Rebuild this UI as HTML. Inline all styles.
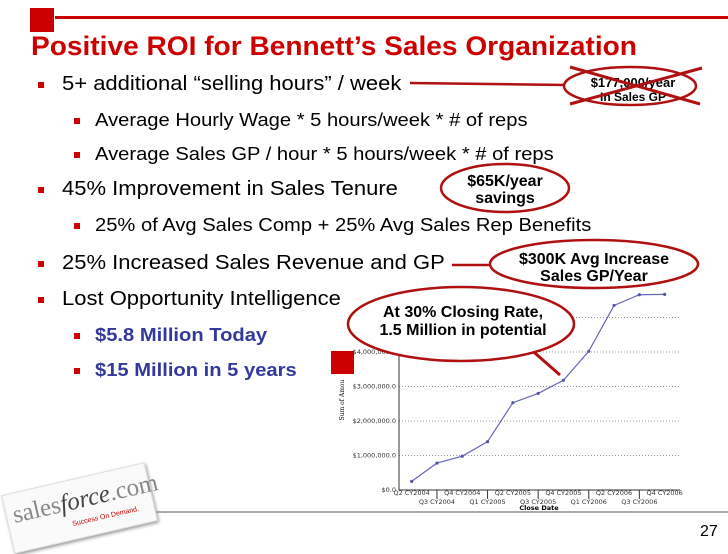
<!DOCTYPE html>
<html><head><meta charset="utf-8"><style>
body{margin:0;width:728px;height:546px;background:#fff;overflow:hidden;position:relative;font-family:"Liberation Sans",sans-serif}
.t{position:absolute;white-space:nowrap;color:#000;transform-origin:0 0}
.b1{font-size:20px;transform:scaleX(1.1)}.b2{font-size:18px;transform:scaleX(1.12)}
.sq{position:absolute;width:6px;height:6px;background:#c00}
</style></head><body>
<div style="position:absolute;left:30px;top:8px;width:24px;height:24px;background:#c00"></div>
<div style="position:absolute;left:55px;top:16px;width:673px;height:3px;background:#c00"></div>
<div class="t" style="left:31px;top:31px;font-size:27px;font-weight:bold;color:#c00;transform:scaleX(1.04)">Positive ROI for Bennett’s Sales Organization</div>

<div class="sq" style="left:38px;top:82px"></div><div class="t b1" style="left:62px;top:73px">5+ additional “selling hours” / week</div>
<div class="sq" style="left:74px;top:118px"></div><div class="t b2" style="left:95px;top:110px">Average Hourly Wage * 5 hours/week * # of reps</div>
<div class="sq" style="left:74px;top:152px"></div><div class="t b2" style="left:95px;top:144px">Average Sales GP / hour * 5 hours/week * # of reps</div>
<div class="sq" style="left:38px;top:187px"></div><div class="t b1" style="left:62px;top:178px">45% Improvement in Sales Tenure</div>
<div class="sq" style="left:74px;top:223px"></div><div class="t b2" style="left:95px;top:215px">25% of Avg Sales Comp + 25% Avg Sales Rep Benefits</div>
<div class="sq" style="left:38px;top:261px"></div><div class="t b1" style="left:62px;top:252px">25% Increased Sales Revenue and GP</div>
<div class="sq" style="left:38px;top:297px"></div><div class="t b1" style="left:62px;top:288px">Lost Opportunity Intelligence</div>
<div class="sq" style="left:74px;top:333px"></div><div class="t b2" style="left:95px;top:325px;color:#33399a;font-weight:bold">$5.8 Million Today</div>
<div class="sq" style="left:74px;top:368px"></div><div class="t b2" style="left:95px;top:360px;color:#33399a;font-weight:bold">$15 Million in 5 years</div>
<div style="position:absolute;left:331px;top:351px;width:23px;height:23px;background:#c00"></div>

<svg width="728" height="546" style="position:absolute;left:0;top:0" id="ch"></svg>

<div style="position:absolute;left:100px;top:511px;width:628px;height:2px;background:#aaa"></div>
<div class="t" style="left:700px;top:523px;font-size:16px">27</div>
<div style="position:absolute;left:6px;top:478px;width:145px;height:58px;transform:rotate(-13deg);background:#fafafa;box-shadow:1px 2px 3px #999;border:1px solid #ddd">
<div class="t" style="left:6px;top:8px;font-size:25px;color:#888;font-family:'Liberation Serif',serif">sales<i style="color:#444">force</i>.com</div>
<div class="t" style="left:62px;top:40px;font-size:7px;color:#c00">Success On Demand.</div></div>

<script>
const categories=["Q2 CY2004","Q3 CY2004","Q4 CY2004","Q1 CY2005","Q2 CY2005","Q3 CY2005","Q4 CY2005","Q1 CY2006","Q2 CY2006","Q3 CY2006","Q4 CY2006"];
const amounts=[250000,780000,980000,1400000,2530000,2800000,3180000,4020000,5350000,5660000,5670000];
const yTicks=[0,1000000,2000000,3000000,4000000,5000000];
const yTickLabels=["$0.0","$1,000,000.0","$2,000,000.0","$3,000,000.0","$4,000,000.0",""];
const svg=document.getElementById('ch');const NS="http://www.w3.org/2000/svg";
const x0=399,bw=25.3,y0=490,pxPerM=34.5;
const X=i=>x0+bw*(i+0.5), Y=v=>y0-v/1e6*pxPerM;
function el(tag,attrs,txt){const e=document.createElementNS(NS,tag);for(const k in attrs)e.setAttribute(k,attrs[k]);if(txt!=null)e.textContent=txt;svg.appendChild(e);return e;}
yTicks.forEach((v,i)=>{if(v>0){const g=el('line',{x1:x0,x2:680,y1:Y(v),y2:Y(v),stroke:'#999','stroke-dasharray':'1,2'});

}
const t=el('text',{x:x0-3,y:Y(v)+2,'font-size':6.5,'text-anchor':'end',fill:'#333','font-family':'DejaVu Sans'},yTickLabels[i]);

});
const ax=el('path',{d:`M${x0} 298V${y0}H680`,stroke:'#333',fill:'none','stroke-width':1});


categories.forEach((c,i)=>{const top=i%2==0;const t=el('text',{x:X(i),y:top?495:504,'font-size':6.5,'text-anchor':'middle',fill:'#333','font-family':'DejaVu Sans'},c);


if(i%2==0&&i>0){const s=el('line',{x1:X(i)-bw,x2:X(i)-bw,y1:y0,y2:y0+9,stroke:'#333'});

}});
const xt=el('text',{x:539,y:510,'font-size':6.5,'font-weight':'bold','text-anchor':'middle','font-family':'DejaVu Sans'},'Close Date');


const yt=el('text',{x:0,y:0,'font-size':6,'text-anchor':'middle','font-family':'DejaVu Serif',transform:'translate(344,400) rotate(-90)'},'Sum of Amou');


const ln=el('polyline',{points:amounts.map((v,i)=>X(i)+','+Y(v)).join(' '),fill:'none',stroke:'#6666bb','stroke-width':1.2});


amounts.forEach((v,i)=>{const p=el('circle',{cx:X(i),cy:Y(v),r:1.6,fill:'#5555aa'});

});
const R='#b01010';
function ell(cx,cy,rx,ry,name){const e=el('ellipse',{cx,cy,rx,ry,fill:'#fff',stroke:R,'stroke-width':2.5});}
function lineR(x1,y1,x2,y2,w){const l=el('line',{x1,y1,x2,y2,stroke:R,'stroke-width':w||2.5});}
function txt(x,y,s,fs){const t=el('text',{x,y,'font-size':fs||15,'font-weight':'bold','text-anchor':'middle','font-family':'Liberation Sans'},s);}
lineR(410,83,566,85);lineR(452,265,492,265);lineR(520,340,560,375,3);
ell(630,86,66,19,'callout-177k');txt(633,87,'$177,000/year',13);txt(633,101,'In Sales GP',12);
lineR(570,67,700,104,3);lineR(570,104,702,68,3);
ell(505,188,64,24,'callout-65k');txt(505,186,'$65K/year',16);txt(505,203,'savings',16);
ell(594,264,104,24,'callout-300k');txt(594,264,'$300K Avg Increase',16);txt(594,281,'Sales GP/Year',16);
ell(461,324,113,37,'callout-closing-rate');txt(463,317,'At 30% Closing Rate,',16);txt(463,335,'1.5 Million in potential',16);
</script>
</body></html>
